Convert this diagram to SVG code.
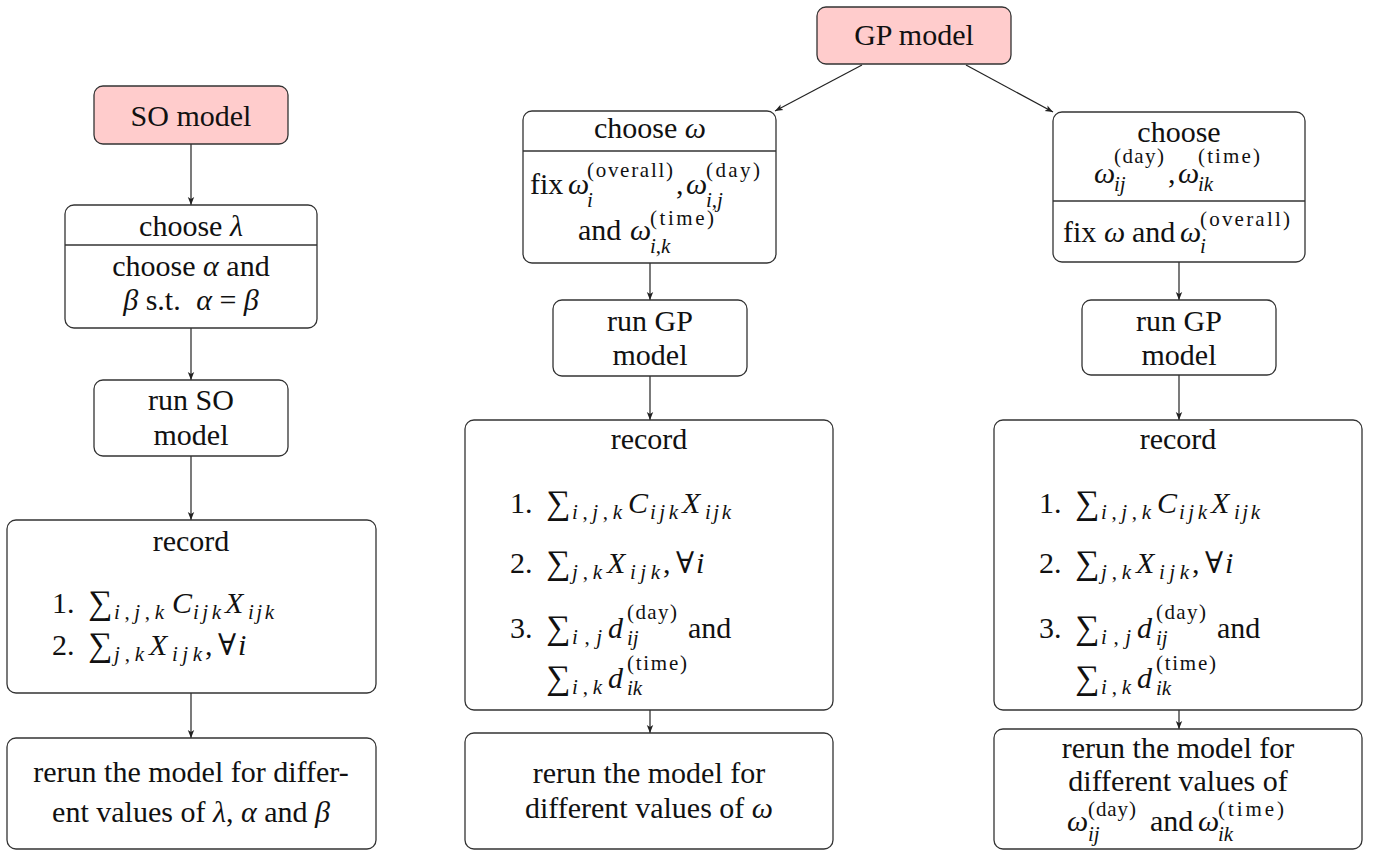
<svg xmlns="http://www.w3.org/2000/svg" width="1382" height="852" viewBox="0 0 1382 852">
<defs>
<marker id="arr" markerWidth="9" markerHeight="8" refX="8" refY="4" orient="auto" markerUnits="userSpaceOnUse">
<path d="M0,0.8 L8,4 L0,7.2 L2,4 Z" fill="#222"/>
</marker>
<style>
text{font-family:'Liberation Serif','Times New Roman',Tinos,'DejaVu Serif',serif;font-size:30px;fill:#111}
.m{font-style:italic}
.s{font-size:21px}
.sum{font-size:34px}
.c{text-anchor:middle}
.box{fill:#fff;stroke:#333;stroke-width:1.3}
.start{fill:#ffcccc}
.div{stroke:#333;stroke-width:1.3}
.edge{fill:none;stroke:#222;stroke-width:1.2;marker-end:url(#arr)}
</style>
</defs>
<rect width="1382" height="852" fill="#fff"/>
<g id="connectors">
<line class="edge" x1="191" y1="144" x2="191" y2="205"/>
<line class="edge" x1="191" y1="328" x2="191" y2="380"/>
<line class="edge" x1="191" y1="456" x2="191" y2="520"/>
<line class="edge" x1="191" y1="693" x2="191" y2="738"/>
<line class="edge" x1="862" y1="65" x2="775" y2="111"/>
<line class="edge" x1="966" y1="65" x2="1053" y2="112"/>
<line class="edge" x1="650" y1="263" x2="650" y2="300"/>
<line class="edge" x1="650" y1="376" x2="650" y2="420"/>
<line class="edge" x1="650" y1="710" x2="650" y2="733"/>
<line class="edge" x1="1179" y1="262" x2="1179" y2="300"/>
<line class="edge" x1="1179" y1="375" x2="1179" y2="420"/>
<line class="edge" x1="1179" y1="710" x2="1179" y2="729"/>
</g>

<g id="so-model">
<rect class="box start" x="94" y="86" width="194" height="58" rx="9"/>
<text class="c" x="191" y="126">SO model</text>
</g>

<g id="choose-lambda">
<rect class="box" x="65" y="205" width="252" height="123" rx="9"/>
<line class="div" x1="65" y1="245" x2="317" y2="245"/>
<text class="c" x="191" y="236">choose <tspan class="m">λ</tspan></text>
<text class="c" x="191" y="276">choose <tspan class="m">α</tspan> and</text>
<text class="c" x="191" y="310"><tspan class="m">β</tspan> s.t. <tspan class="m" dx="8">α</tspan> = <tspan class="m">β</tspan></text>
</g>

<g id="run-so">
<rect class="box" x="94" y="380" width="194" height="76" rx="9"/>
<text class="c" x="191" y="410">run SO</text>
<text class="c" x="191" y="445">model</text>
</g>

<g id="record-so">
<rect class="box" x="7" y="520" width="369" height="173" rx="9"/>
<text class="c" x="191" y="551">record</text>
<text x="52" y="613">1.</text>
<text class="sum" x="88" y="614">∑</text>
<text class="s" x="114" y="619" textLength="50"><tspan class="m">i</tspan>,<tspan class="m">j</tspan>,<tspan class="m">k</tspan></text>
<text class="m" x="172" y="613">C</text>
<text class="s m" x="193" y="619" textLength="28">ijk</text>
<text class="m" x="225" y="613">X</text>
<text class="s m" x="248" y="619" textLength="26">ijk</text>
<text x="52" y="655">2.</text>
<text class="sum" x="88" y="656">∑</text>
<text class="s" x="114" y="661" textLength="30"><tspan class="m">j</tspan>,<tspan class="m">k</tspan></text>
<text class="m" x="149" y="655">X</text>
<text class="s m" x="172" y="661" textLength="30">ijk</text>
<text x="205" y="655">,</text>
<text x="218" y="655">∀</text>
<text class="m" x="238" y="655">i</text>
</g>

<g id="rerun-so">
<rect class="box" x="7" y="738" width="369" height="111" rx="9"/>
<text class="c" x="191" y="782">rerun the model for differ-</text>
<text class="c" x="191" y="822">ent values of <tspan class="m">λ</tspan>, <tspan class="m">α</tspan> and <tspan class="m">β</tspan></text>
</g>

<g id="gp-model">
<rect class="box start" x="817" y="7" width="194" height="57" rx="9"/>
<text class="c" x="914" y="45">GP model</text>
</g>

<g id="choose-omega">
<rect class="box" x="523" y="111" width="253" height="152" rx="9"/>
<line class="div" x1="523" y1="151" x2="776" y2="151"/>
<text class="c" x="650" y="138">choose <tspan class="m">ω</tspan></text>
<text x="530" y="194">fix</text>
<text class="m" x="568" y="194">ω</text>
<text class="s" x="587" y="177" textLength="86">(overall)</text>
<text class="s m" x="587" y="207">i</text>
<text x="676" y="194">,</text>
<text class="m" x="686" y="194">ω</text>
<text class="s" x="706" y="177" textLength="54">(day)</text>
<text class="s" x="706" y="207"><tspan class="m">i</tspan>,<tspan class="m">j</tspan></text>
<text x="578" y="240">and</text>
<text class="m" x="630" y="240">ω</text>
<text class="s" x="650" y="225" textLength="64">(time)</text>
<text class="s" x="650" y="253"><tspan class="m">i</tspan>,<tspan class="m">k</tspan></text>
</g>

<g id="run-gp-1">
<rect class="box" x="553" y="300" width="194" height="76" rx="9"/>
<text class="c" x="650" y="331">run GP</text>
<text class="c" x="650" y="365">model</text>
</g>

<g id="record-gp-1">
<rect class="box" x="465" y="420" width="368" height="290" rx="9"/>
<text class="c" x="649" y="449">record</text>
<text x="510" y="513">1.</text>
<text class="sum" x="546" y="514">∑</text>
<text class="s" x="572" y="519" textLength="50"><tspan class="m">i</tspan>,<tspan class="m">j</tspan>,<tspan class="m">k</tspan></text>
<text class="m" x="628" y="513">C</text>
<text class="s m" x="650" y="519" textLength="28">ijk</text>
<text class="m" x="682" y="513">X</text>
<text class="s m" x="705" y="519" textLength="26">ijk</text>
<text x="510" y="573">2.</text>
<text class="sum" x="546" y="574">∑</text>
<text class="s" x="572" y="579" textLength="30"><tspan class="m">j</tspan>,<tspan class="m">k</tspan></text>
<text class="m" x="607" y="573">X</text>
<text class="s m" x="630" y="579" textLength="30">ijk</text>
<text x="663" y="573">,</text>
<text x="676" y="573">∀</text>
<text class="m" x="696" y="573">i</text>
<text x="510" y="638">3.</text>
<text class="sum" x="546" y="639">∑</text>
<text class="s" x="572" y="644" textLength="30"><tspan class="m">i</tspan>,<tspan class="m">j</tspan></text>
<text class="m" x="608" y="638">d</text>
<text class="s" x="627" y="619" textLength="50">(day)</text>
<text class="s m" x="627" y="645">ij</text>
<text x="688" y="638">and</text>
<text class="sum" x="546" y="689">∑</text>
<text class="s" x="572" y="694" textLength="30"><tspan class="m">i</tspan>,<tspan class="m">k</tspan></text>
<text class="m" x="608" y="688">d</text>
<text class="s" x="627" y="670" textLength="60">(time)</text>
<text class="s m" x="627" y="695">ik</text>
</g>

<g id="rerun-gp-1">
<rect class="box" x="465" y="733" width="368" height="116" rx="9"/>
<text class="c" x="649" y="783">rerun the model for</text>
<text class="c" x="649" y="818">different values of <tspan class="m">ω</tspan></text>
</g>

<g id="choose-day-time">
<rect class="box" x="1053" y="112" width="252" height="150" rx="9"/>
<line class="div" x1="1053" y1="201" x2="1305" y2="201"/>
<text class="c" x="1179" y="142">choose</text>
<text class="m" x="1094" y="183">ω</text>
<text class="s" x="1114" y="163" textLength="50">(day)</text>
<text class="s m" x="1114" y="191">ij</text>
<text x="1168" y="183">,</text>
<text class="m" x="1178" y="183">ω</text>
<text class="s" x="1198" y="163" textLength="62">(time)</text>
<text class="s m" x="1198" y="191">ik</text>
<text x="1063" y="242">fix</text>
<text class="m" x="1104" y="242">ω</text>
<text x="1132" y="242">and</text>
<text class="m" x="1180" y="242">ω</text>
<text class="s" x="1200" y="226" textLength="90">(overall)</text>
<text class="s m" x="1200" y="253">i</text>
</g>

<g id="run-gp-2">
<rect class="box" x="1082" y="300" width="194" height="75" rx="9"/>
<text class="c" x="1179" y="331">run GP</text>
<text class="c" x="1179" y="365">model</text>
</g>

<g id="record-gp-2">
<rect class="box" x="994" y="420" width="368" height="290" rx="9"/>
<text class="c" x="1178" y="449">record</text>
<text x="1039" y="513">1.</text>
<text class="sum" x="1075" y="514">∑</text>
<text class="s" x="1101" y="519" textLength="50"><tspan class="m">i</tspan>,<tspan class="m">j</tspan>,<tspan class="m">k</tspan></text>
<text class="m" x="1157" y="513">C</text>
<text class="s m" x="1179" y="519" textLength="28">ijk</text>
<text class="m" x="1211" y="513">X</text>
<text class="s m" x="1234" y="519" textLength="26">ijk</text>
<text x="1039" y="573">2.</text>
<text class="sum" x="1075" y="574">∑</text>
<text class="s" x="1101" y="579" textLength="30"><tspan class="m">j</tspan>,<tspan class="m">k</tspan></text>
<text class="m" x="1136" y="573">X</text>
<text class="s m" x="1159" y="579" textLength="30">ijk</text>
<text x="1192" y="573">,</text>
<text x="1205" y="573">∀</text>
<text class="m" x="1225" y="573">i</text>
<text x="1039" y="638">3.</text>
<text class="sum" x="1075" y="639">∑</text>
<text class="s" x="1101" y="644" textLength="30"><tspan class="m">i</tspan>,<tspan class="m">j</tspan></text>
<text class="m" x="1137" y="638">d</text>
<text class="s" x="1156" y="619" textLength="50">(day)</text>
<text class="s m" x="1156" y="645">ij</text>
<text x="1217" y="638">and</text>
<text class="sum" x="1075" y="689">∑</text>
<text class="s" x="1101" y="694" textLength="30"><tspan class="m">i</tspan>,<tspan class="m">k</tspan></text>
<text class="m" x="1137" y="688">d</text>
<text class="s" x="1156" y="670" textLength="60">(time)</text>
<text class="s m" x="1156" y="695">ik</text>
</g>

<g id="rerun-gp-2">
<rect class="box" x="994" y="729" width="368" height="120" rx="9"/>
<text class="c" x="1178" y="758">rerun the model for</text>
<text class="c" x="1178" y="791">different values of</text>
<text class="m" x="1067" y="831">ω</text>
<text class="s" x="1088" y="816" textLength="48">(day)</text>
<text class="s m" x="1088" y="841">ij</text>
<text x="1150" y="831">and</text>
<text class="m" x="1198" y="831">ω</text>
<text class="s" x="1218" y="816" textLength="66">(time)</text>
<text class="s m" x="1218" y="841">ik</text>
</g>
</svg>
